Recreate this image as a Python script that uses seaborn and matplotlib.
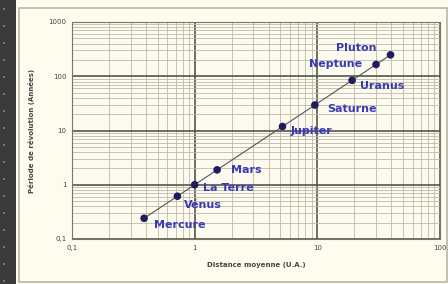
import numpy as np
import pandas as pd
import matplotlib
matplotlib.use("Agg")
import matplotlib.pyplot as plt
from matplotlib.patches import Rectangle
import seaborn as sns

# Données : distance moyenne (U.A.) et période de révolution (années)
planetes = ["Mercure", "Vénus", "La Terre", "Mars", "Jupiter",
            "Saturne", "Uranus", "Neptune", "Pluton"]
distance = [0.387, 0.723, 1.0, 1.524, 5.20, 9.54, 19.2, 30.1, 39.5]
periode = [0.241, 0.615, 1.0, 1.881, 11.86, 29.46, 84.0, 164.8, 248.0]
x_ticks = [0.1, 1, 10, 100]
y_ticks = [0.1, 1, 10, 100, 1000]
# décalage des étiquettes (points) et alignement
decalage = [(7, -5), (5, -6), (6, -2), (10, 0), (6, -3),
            (9, -3), (6, -4), (-10, 0), (-10, 5)]
alignement = ["left"] * 7 + ["right", "right"]

df = pd.DataFrame({"planete": planetes, "distance": distance, "periode": periode})

sns.set_style("white")
fond = "#fdfcef"
fig = plt.figure(figsize=(4.48, 2.84), dpi=100, facecolor=fond)

# bande sombre à gauche et cadre
fig.patches.append(Rectangle((0, 0), 16 / 448, 1, transform=fig.transFigure,
                             facecolor="#3b3b3b", edgecolor="none", zorder=0))
for yy in np.arange(10, 284, 17):
    fig.patches.append(Rectangle((3 / 448, 1 - yy / 284), 2 / 448, 2 / 284,
                                 transform=fig.transFigure, facecolor="#777777",
                                 edgecolor="none", zorder=1))
fig.patches.append(Rectangle((19 / 448, 2 / 284), 428 / 448, 274 / 284,
                             transform=fig.transFigure, facecolor="none",
                             edgecolor="#b8b6a8", lw=1.2, zorder=1))

ax = fig.add_axes([72 / 448, 45 / 284, 368 / 448, 217 / 284])
ax.set_facecolor("#fdfbf0")

sns.lineplot(data=df, x="distance", y="periode", ax=ax, color="#555555",
             lw=0.8, sort=False, zorder=3)
sns.scatterplot(data=df, x="distance", y="periode", ax=ax, color="#1c1c5e",
                s=30, edgecolor="none", zorder=4)

ax.set_xscale("log")
ax.set_yscale("log")
ax.set_xlim(0.1, 100)
ax.set_ylim(0.1, 1000)
ax.set_xticks(x_ticks)
ax.set_xticklabels(["0,1", "1", "10", "100"])
ax.set_yticks(y_ticks)
ax.set_yticklabels(["0,1", "1", "10", "100", "1000"])
ax.tick_params(labelsize=5, length=2, colors="#444444", pad=2)

ax.grid(which="major", color="#55554a", lw=1.2)
ax.grid(which="minor", color="#bcbaa6", lw=0.6)
ax.set_axisbelow(True)
for s in ax.spines.values():
    s.set_color("#777766")
    s.set_linewidth(0.8)

ax.set_xlabel("Distance moyenne (U.A.)", fontsize=5, fontweight="bold",
              color="#444444", labelpad=8)
ax.set_ylabel("Période de révolution (Années)", fontsize=5, fontweight="bold",
              color="#444444", labelpad=10)

for nom, x, y, d, ha in zip(planetes, distance, periode, decalage, alignement):
    ax.annotate(nom, (x, y), xytext=d, textcoords="offset points", ha=ha,
                va="center", fontsize=8, fontweight="bold", color="#3a3ab4",
                zorder=5)

fig.savefig("out.png", dpi=100, facecolor=fond)
